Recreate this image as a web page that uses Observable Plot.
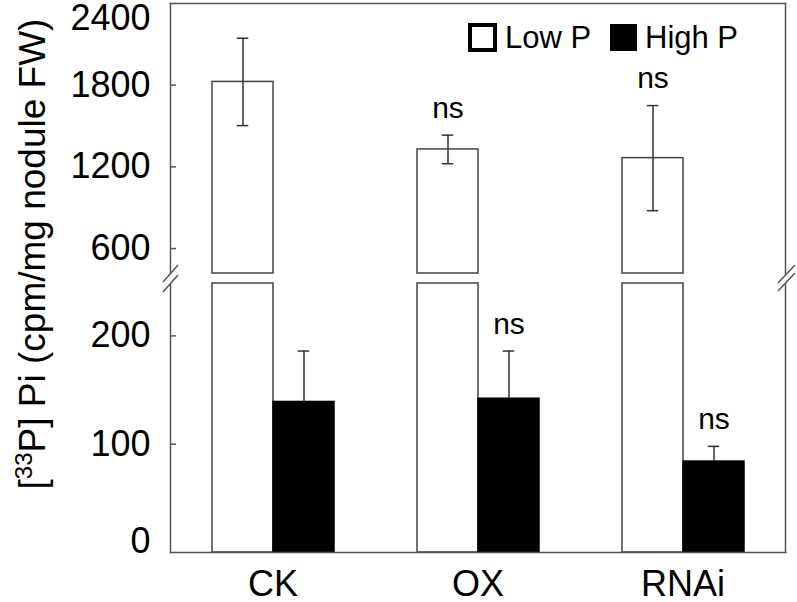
<!DOCTYPE html>
<html>
<head>
<meta charset="utf-8">
<script src="https://cdn.jsdelivr.net/npm/d3@7"></script>
<script src="https://cdn.jsdelivr.net/npm/@observablehq/plot@0.6"></script>
<style>
html, body { margin: 0; padding: 0; background: #fff; }
#chart { position: relative; width: 797px; height: 602px; overflow: hidden; font-family: "Liberation Sans", Arial, sans-serif; }
#topPanel, #bottomPanel, #overlay { position: absolute; left: 0; }
#topPanel { top: 0; }
#bottomPanel { top: 278px; }
#overlay { top: 0; pointer-events: none; }
</style>
</head>
<body>
<div id="chart">
  <div id="topPanel"></div>
  <div id="bottomPanel"></div>
</div>
<script>
// ---- data ----
const groups = ["CK", "OX", "RNAi"];
const series = ["Low P", "High P"];
const lowMean = [1824, 1328, 1264];
const lowErr = [321, 105, 386];
const highMean = [139, 142, 84];
const highErr = [47, 44, 14];
const lowSig = ["", "ns", "ns"];
const highSig = ["", "ns", "ns"];
const topTicks = [600, 1200, 1800];
const topEdgeTicks = [2400];
const bottomTicks = [100, 200];
const bottomEdgeTicks = [0];
const yLabelMain = "P] Pi (cpm/mg nodule FW)";
const yLabelSup = "33";

const low = groups.map((g, i) => ({group: g, series: "Low P", mean: lowMean[i], err: lowErr[i], sig: lowSig[i]}));
const high = groups.map((g, i) => ({group: g, series: "High P", mean: highMean[i], err: highErr[i], sig: highSig[i]}));

const FONT = '"Liberation Sans", Arial, sans-serif';
const AX = "#555";
const BAR = "#444";
const ERR = "#333";
const fmt = d3.format("d");

const common = {
  width: 797,
  marginLeft: 170,
  marginRight: 12,
  fx: {domain: groups, paddingInner: 0, paddingOuter: 0, label: null, axis: null},
  x: {domain: series, paddingInner: 0, paddingOuter: 0.667, axis: null, label: null},
  color: {domain: series, range: ["white", "black"]},
  style: {fontFamily: FONT, fontSize: "36px", color: "black", background: "transparent", overflow: "visible"}
};

const capInset = 24.75;

const topPlot = Plot.plot({
  ...common,
  height: 278,
  marginTop: 3,
  marginBottom: 0,
  y: {domain: [380, 2400], clamp: true, axis: null, label: null},
  marks: [
    Plot.barY(low, {fx: "group", x: "series", y1: 0, y2: "mean", fill: "series", stroke: BAR, strokeWidth: 1.5, insetBottom: 5}),
    Plot.ruleX(low, {fx: "group", x: "series", y1: d => d.mean - d.err, y2: d => d.mean + d.err, stroke: ERR, strokeWidth: 1.5}),
    Plot.tickY(low, {fx: "group", x: "series", y: d => d.mean + d.err, stroke: ERR, strokeWidth: 1.5, insetLeft: capInset, insetRight: capInset}),
    Plot.tickY(low, {fx: "group", x: "series", y: d => d.mean - d.err, stroke: ERR, strokeWidth: 1.5, insetLeft: capInset, insetRight: capInset}),
    Plot.text(low.filter(d => d.sig), {fx: "group", x: "series", y: d => d.mean + d.err, text: "sig", dy: -27, fontSize: 30, fill: "black"}),
    Plot.axisY(topTicks, {tickSize: -6, fill: "none", stroke: AX, strokeWidth: 1.5, label: null}),
    Plot.axisY(topTicks, {tickSize: 0, tickPadding: 20, tickFormat: fmt, stroke: "none", fill: "black", fontSize: 36, label: null}),
    Plot.axisY(topEdgeTicks, {tickSize: 0, tickPadding: 20, tickFormat: fmt, stroke: "none", fill: "black", fontSize: 36, dy: 15, label: null}),
    Plot.frame({anchor: "left", facet: "super", stroke: AX, strokeWidth: 1.5}),
    Plot.frame({anchor: "right", facet: "super", stroke: AX, strokeWidth: 1.5}),
    Plot.frame({anchor: "top", facet: "super", stroke: AX, strokeWidth: 1.5})
  ]
});

const bottomPlot = Plot.plot({
  ...common,
  height: 324,
  marginTop: 0,
  marginBottom: 50,
  y: {domain: [0, 253], clamp: true, axis: null, label: null},
  marks: [
    Plot.barY(low, {fx: "group", x: "series", y1: 0, y2: "mean", fill: "series", stroke: BAR, strokeWidth: 1.5, insetTop: 5}),
    Plot.barY(high, {fx: "group", x: "series", y1: 0, y2: "mean", fill: "series", stroke: "black", strokeWidth: 1.5}),
    Plot.ruleX(high, {fx: "group", x: "series", y1: "mean", y2: d => d.mean + d.err, stroke: ERR, strokeWidth: 1.5}),
    Plot.tickY(high, {fx: "group", x: "series", y: d => d.mean + d.err, stroke: ERR, strokeWidth: 1.5, insetLeft: capInset, insetRight: capInset}),
    Plot.text(high.filter(d => d.sig), {fx: "group", x: "series", y: d => d.mean + d.err, text: "sig", dy: -27, fontSize: 30, fill: "black"}),
    Plot.axisY(bottomTicks, {tickSize: -6, fill: "none", stroke: AX, strokeWidth: 1.5, label: null}),
    Plot.axisY(bottomTicks, {tickSize: 0, tickPadding: 20, tickFormat: fmt, stroke: "none", fill: "black", fontSize: 36, label: null}),
    Plot.axisY(bottomEdgeTicks, {tickSize: 0, tickPadding: 20, tickFormat: fmt, stroke: "none", fill: "black", fontSize: 36, dy: -11, label: null}),
    Plot.axisFx({anchor: "bottom", tickSize: 0, tickPadding: 18, fontSize: 36, fill: "black", label: null}),
    Plot.frame({anchor: "left", facet: "super", stroke: AX, strokeWidth: 1.5}),
    Plot.frame({anchor: "right", facet: "super", stroke: AX, strokeWidth: 1.5}),
    Plot.frame({anchor: "bottom", facet: "super", stroke: AX, strokeWidth: 1.5})
  ]
});

document.getElementById("topPanel").append(topPlot);
document.getElementById("bottomPanel").append(bottomPlot);

// ---- overlay: axis-break marks, y-axis title, legend ----
const ns = "http://www.w3.org/2000/svg";
const ov = d3.select("#chart").append("svg")
  .attr("id", "overlay").attr("xmlns", ns)
  .attr("width", 797).attr("height", 602)
  .style("font-family", FONT);

function breakMark(x0, x1, yA, yB, gap) {
  ov.append("polygon")
    .attr("points", `${x0},${yA} ${x1},${yB} ${x1},${yB + gap} ${x0},${yA + gap}`)
    .attr("fill", "white");
  ov.append("line").attr("x1", x0).attr("y1", yA).attr("x2", x1).attr("y2", yB)
    .attr("stroke", AX).attr("stroke-width", 1.5);
  ov.append("line").attr("x1", x0).attr("y1", yA + gap).attr("x2", x1).attr("y2", yB + gap)
    .attr("stroke", AX).attr("stroke-width", 1.5);
}
breakMark(163, 178, 282, 265, 10);
breakMark(778, 795, 283, 265, 8);

const yl = ov.append("text")
  .attr("transform", "translate(45,254) rotate(-90)")
  .attr("text-anchor", "middle")
  .attr("font-size", 37)
  .attr("fill", "black");
yl.append("tspan").text("[");
yl.append("tspan").attr("font-size", 24).attr("dy", -13).text(yLabelSup);
yl.append("tspan").attr("dy", 13).text(yLabelMain);

// legend
const lg = ov.append("g");
lg.append("rect").attr("x", 470).attr("y", 25).attr("width", 25).attr("height", 25)
  .attr("fill", "white").attr("stroke", "black").attr("stroke-width", 4);
lg.append("text").attr("x", 505).attr("y", 48).attr("font-size", 31).attr("fill", "black").text(series[0]);
lg.append("rect").attr("x", 610).attr("y", 24).attr("width", 27).attr("height", 27).attr("fill", "black");
lg.append("text").attr("x", 645).attr("y", 48).attr("font-size", 31).attr("fill", "black").text(series[1]);
</script>
</body>
</html>
